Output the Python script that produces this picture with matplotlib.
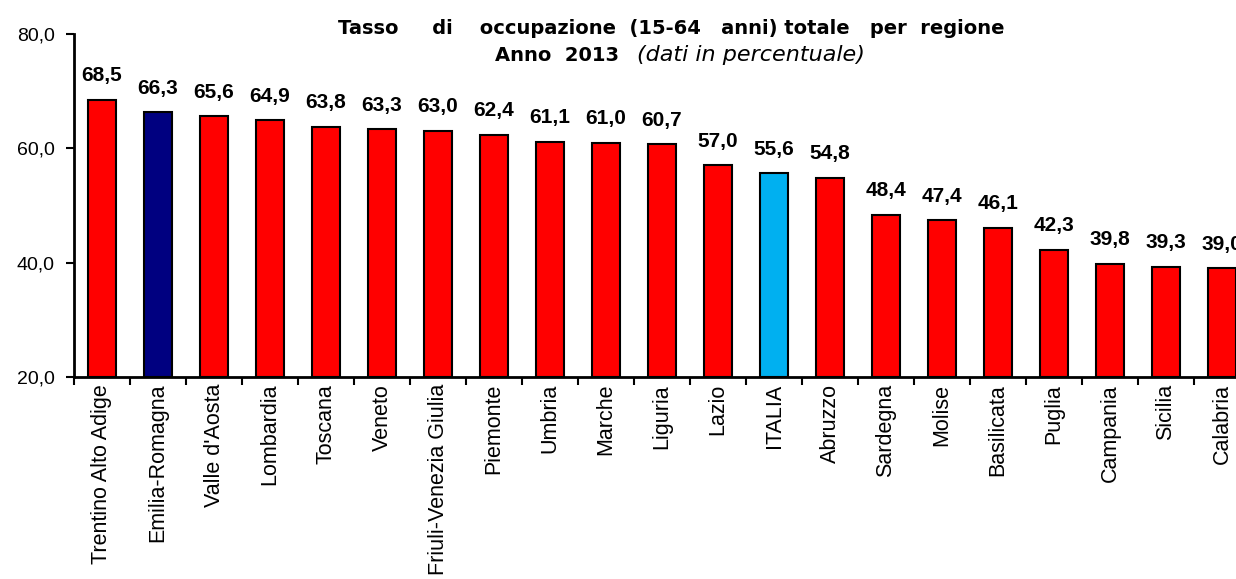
import matplotlib
matplotlib.use("Agg")
import matplotlib.pyplot as plt
import numpy as np

regions = ["Trentino Alto Adige", "Emilia-Romagna", "Valle d'Aosta", "Lombardia",
           "Toscana", "Veneto", "Friuli-Venezia Giulia", "Piemonte", "Umbria",
           "Marche", "Liguria", "Lazio", "ITALIA", "Abruzzo", "Sardegna", "Molise",
           "Basilicata", "Puglia", "Campania", "Sicilia", "Calabria"]
values = [68.5, 66.3, 65.6, 64.9, 63.8, 63.3, 63.0, 62.4, 61.1, 61.0, 60.7,
          57.0, 55.6, 54.8, 48.4, 47.4, 46.1, 42.3, 39.8, 39.3, 39.0]
yticks = [20, 40, 60, 80]
highlight = {"Emilia-Romagna": "#000080", "ITALIA": "#00B0F0"}

plt.rcParams['font.family'] = ['Liberation Sans', 'DejaVu Sans']

W, H = 1236, 579
fig = plt.figure(figsize=(W / 100, H / 100), dpi=100)
left, right, top, bottom = 74, 1250, 34, 377
ax = fig.add_axes([left / W, (H - bottom) / H, (right - left) / W, (bottom - top) / H])

x = np.arange(len(regions))
colors = [highlight.get(r, "#FF0000") for r in regions]
ax.bar(x, [v - 20 for v in values], bottom=20, width=0.5, color=colors,
       edgecolor="black", linewidth=1.5, zorder=3)

for xi, v in zip(x, values):
    ax.annotate(f"{v:.1f}".replace(".", ","), (xi, v), xytext=(0, 13.5),
                textcoords="offset points", ha="center", va="baseline",
                fontsize=15, fontweight="bold", annotation_clip=False)

ax.set_xlim(-0.5, len(regions) - 0.5)
ax.set_ylim(20, 80)
ax.set_yticks(yticks)
ax.set_yticklabels([f"{t:.1f}".replace(".", ",") for t in yticks], fontsize=14)
ax.tick_params(axis="y", direction="out", length=6, width=1.5, pad=8)

ax.set_xticks(x)
ax.set_xticklabels(regions, rotation=90, fontsize=15.5)
ax.tick_params(axis="x", which="major", length=0, pad=5)
ax.set_xticks(np.arange(-0.5, len(regions), 1), minor=True)
ax.tick_params(axis="x", which="minor", direction="out", length=6, width=1.5)

for s in ["top", "right"]:
    ax.spines[s].set_visible(False)
for s in ["left", "bottom"]:
    ax.spines[s].set_linewidth(2)

title_font = ['DejaVu Sans']
fig.text(338 / W, 1 - 34 / H,
         "Tasso     di    occupazione  (15-64   anni) totale   per  regione",
         ha="left", va="baseline", fontsize=14, fontweight="bold", family=title_font)
fig.text(495 / W, 1 - 61 / H, "Anno  2013", ha="left", va="baseline",
         fontsize=14, fontweight="bold", family=title_font)
fig.text(637 / W, 1 - 61 / H, "(dati in percentuale)", ha="left", va="baseline",
         fontsize=16, fontstyle="italic", family=title_font)

fig.savefig("out.png", dpi=100)
